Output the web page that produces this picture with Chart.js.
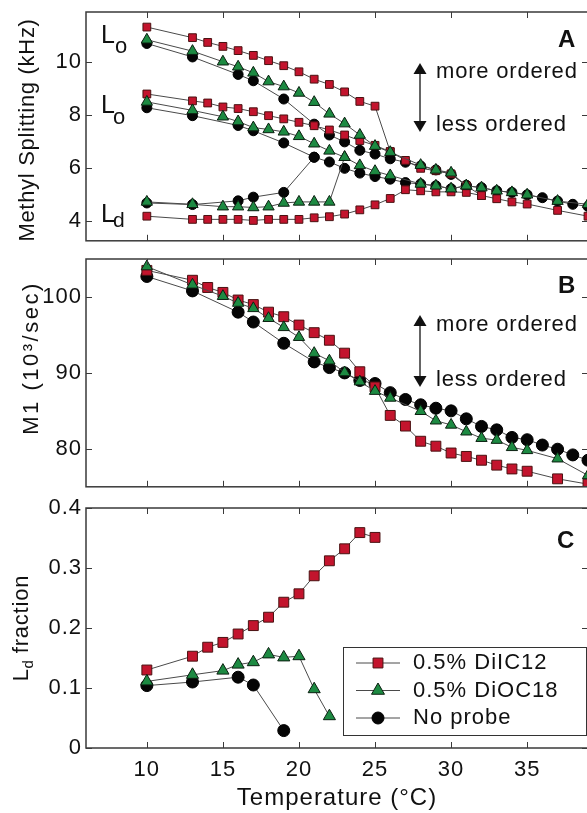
<!DOCTYPE html>
<html lang="en">
<head>
<meta charset="UTF-8">
<title>Methyl splitting, M1 and Ld fraction vs temperature</title>
<script src="https://cdn.jsdelivr.net/npm/chart.js@4.4.1/dist/chart.umd.min.js"></script>
<style>
  html, body { margin: 0; padding: 0; background: #fff; overflow: hidden; width: 587px; height: 813px; }
  canvas { position: absolute; left: 0; }
  #chartA { top: -8px; }
  #chartB { top: 240px; }
  #chartC { top: 485px; }
</style>
</head>
<body>
<canvas id="chartA" width="600" height="266"></canvas>
<canvas id="chartB" width="600" height="264"></canvas>
<canvas id="chartC" width="600" height="328"></canvas>
<script>
// Temperature axis (°C), shared by the three panels
const tempMin = 6, tempMax = 39;
const tempTicks = [10, 15, 20, 25, 30, 35];

// tick labels of the three y axes
const splitTicks = [4, 6, 8, 10];
const m1Ticks = [80, 90, 100];
const fracTicks = [0, 0.1, 0.2, 0.3, 0.4];

// Panel A: methyl splitting (kHz), Lo / Lo / Ld branches per sample
const tRedLo1 = [10, 13, 14, 15, 16, 17, 18, 19, 20, 21, 22, 23, 24, 25, 26];
const redLo1  = [11.33, 10.93, 10.75, 10.60, 10.44, 10.26, 10.06, 9.87, 9.64, 9.36, 9.16, 8.88, 8.52, 8.34, 6.62];
const tRedLo2 = [10, 13, 14, 15, 16, 17, 18, 19, 20, 21, 22, 23, 24, 25, 26, 27, 28, 29, 30, 31, 32];
const redLo2  = [8.80, 8.54, 8.46, 8.31, 8.25, 8.13, 7.98, 7.86, 7.73, 7.60, 7.44, 7.25, 7.04, 6.86, 6.62, 6.29, 5.99, 5.90, 5.78, 5.33, 4.96];
const tRedLd  = [10, 13, 14, 15, 16, 17, 18, 19, 20, 21, 22, 23, 24, 25, 26, 27, 28, 29, 30, 31, 32, 33, 34, 35, 37, 39];
const redLd   = [4.18, 4.06, 4.06, 4.06, 4.06, 4.02, 4.06, 4.06, 4.06, 4.12, 4.16, 4.26, 4.42, 4.61, 4.85, 5.18, 5.14, 5.10, 5.10, 5.08, 4.96, 4.84, 4.72, 4.64, 4.40, 4.18];

const tGrnLo1 = [10, 13, 15, 16, 17, 18, 19, 20, 21, 22, 23, 24, 25, 26, 28, 29, 30, 31];
const grnLo1  = [10.85, 10.42, 10.02, 9.83, 9.60, 9.27, 9.08, 8.84, 8.49, 8.05, 7.68, 7.25, 6.83, 6.60, 6.11, 5.93, 5.82, 5.33];
const tGrnLo2 = [10, 13, 15, 16, 17, 18, 19, 20, 21, 22, 23, 24, 25, 26, 28, 29, 30, 31, 32, 33, 34, 35, 37, 39];
const grnLo2  = [8.50, 8.18, 7.94, 7.76, 7.53, 7.46, 7.37, 7.20, 6.92, 6.65, 6.41, 6.10, 5.88, 5.72, 5.40, 5.33, 5.22, 5.33, 5.26, 5.14, 5.08, 4.99, 4.75, 4.63];
const tGrnLd  = [10, 13, 15, 16, 17, 18, 19, 20, 21, 22, 23];
const grnLd   = [4.72, 4.63, 4.54, 4.54, 4.51, 4.54, 4.68, 4.72, 4.72, 4.72, 6.41];

const tBlkLo1 = [10, 13, 16, 17, 19, 21, 22, 23, 24, 25, 26, 27, 28, 29, 30, 31];
const blkLo1  = [10.71, 10.20, 9.54, 9.30, 8.61, 7.66, 7.25, 6.99, 6.67, 6.53, 6.35, 6.22, 6.08, 5.93, 5.76, 5.35];
const tBlkLo2 = [10, 13, 16, 17, 19, 21, 22, 23, 24, 25, 26, 27, 28, 29, 30, 31, 32, 33, 34, 35, 36, 37, 38, 39];
const blkLo2  = [8.28, 7.98, 7.61, 7.41, 6.95, 6.41, 6.23, 5.99, 5.81, 5.68, 5.58, 5.45, 5.40, 5.33, 5.22, 5.33, 5.26, 5.14, 5.08, 4.99, 4.88, 4.75, 4.63, 4.55];
const tBlkLd  = [10, 13, 16, 17, 19, 21];
const blkLd   = [4.68, 4.62, 4.76, 4.90, 5.08, 6.41];

// Panel B: M1 (10^3/sec)
const tRedM1 = [10, 13, 14, 15, 16, 17, 18, 19, 20, 21, 22, 23, 24, 25, 26, 27, 28, 29, 30, 31, 32, 33, 34, 35, 37, 39];
const redM1  = [103.5, 102.2, 101.25, 100.6, 99.6, 99.0, 98.0, 97.4, 96.3, 95.3, 94.3, 92.6, 90.15, 88.15, 84.4, 83.0, 81.0, 80.35, 79.45, 79.0, 78.5, 77.85, 77.35, 77.05, 76.05, 75.35];
const tGrnM1 = [10, 13, 15, 16, 17, 18, 19, 20, 21, 22, 23, 24, 25, 26, 28, 29, 30, 31, 32, 33, 34, 35, 37, 39];
const grnM1  = [104.0, 101.6, 100.1, 99.2, 98.5, 97.2, 96.0, 94.7, 92.6, 91.6, 90.05, 88.85, 87.6, 86.7, 84.95, 83.7, 83.15, 82.25, 81.4, 81.15, 80.2, 79.8, 78.7, 76.5];
const tBlkM1 = [10, 13, 16, 17, 19, 21, 22, 23, 24, 25, 26, 27, 28, 29, 30, 31, 32, 33, 34, 35, 36, 37, 38, 39];
const blkM1  = [102.7, 100.8, 98.0, 96.7, 93.9, 91.45, 90.7, 90.0, 89.0, 88.6, 87.4, 86.5, 85.8, 85.35, 85.0, 83.95, 82.95, 82.5, 81.5, 81.2, 80.5, 79.95, 79.2, 78.5];

// Panel C: Ld fraction
const tRedFrac = [10, 13, 14, 15, 16, 17, 18, 19, 20, 21, 22, 23, 24, 25];
const redFrac  = [0.130, 0.153, 0.168, 0.176, 0.190, 0.204, 0.218, 0.243, 0.257, 0.287, 0.312, 0.332, 0.359, 0.351];
const tGrnFrac = [10, 13, 15, 16, 17, 18, 19, 20, 21, 22];
const grnFrac  = [0.111, 0.122, 0.129, 0.139, 0.143, 0.156, 0.151, 0.153, 0.098, 0.053];
const tBlkFrac = [10, 13, 16, 17, 19];
const blkFrac  = [0.104, 0.110, 0.118, 0.105, 0.029];

const legendLabels = ['0.5% DiIC12', '0.5% DiOC18', 'No probe'];

// styles
const FONT = "'Liberation Sans', Arial, sans-serif";
const RED = { shape: 'rect', fill: '#c3142d', edge: '#4a1212' };
const GRN = { shape: 'triangle', fill: '#1d8a42', edge: '#0b1f10' };
const BLK = { shape: 'circle', fill: '#050505', edge: '#000' };

Chart.defaults.font.family = FONT;
Chart.defaults.color = '#111';

function series(T, V, st, r) {
    return {
        data: T.map((t, i) => ({ x: t, y: V[i] })),
        showLine: true,
        borderColor: '#4a4a4a',
        borderWidth: 1,
        pointStyle: st.shape,
        pointRadius: r,
        pointBackgroundColor: st.fill,
        pointBorderColor: st.edge,
        pointBorderWidth: 1,
        tension: 0,
        clip: 0
    };
}

function scalesFor(yMin, yMax, yTicks, showX, xHeight) {
    return {
        x: {
            type: 'linear', min: tempMin, max: tempMax,
            ticks: { display: showX, padding: 9, font: { size: 22 }, color: '#111' },
            afterBuildTicks: s => { s.ticks = tempTicks.map(v => ({ value: v })); },
            grid: { display: false, drawTicks: false },
            border: { display: false },
            title: { display: showX, text: 'Temperature (°C)', font: { size: 24 }, color: '#111', padding: { top: 0, bottom: 0 } },
            afterFit: s => { s.height = xHeight; }
        },
        y: {
            type: 'linear', min: yMin, max: yMax,
            ticks: {
                padding: 4, font: { size: 22 }, color: '#111',
                callback: v => String(Number(v.toFixed(2)))
            },
            afterBuildTicks: s => { s.ticks = yTicks.map(v => ({ value: v })); },
            grid: { display: false, drawTicks: false },
            border: { display: false },
            afterFit: s => { s.width = 86; }
        }
    };
}

// box with inward ticks on all four sides
const framePlugin = {
    id: 'frame',
    beforeDraw(chart) { chart.ctx.letterSpacing = '1px'; },
    afterDraw(chart) {
        const { ctx, chartArea: a, scales: { x, y } } = chart;
        ctx.save();
        ctx.strokeStyle = '#3a3a3a';
        ctx.lineWidth = 1.5;
        ctx.strokeRect(a.left, a.top, a.right - a.left, a.bottom - a.top);
        ctx.lineWidth = 1;
        ctx.beginPath();
        x.ticks.forEach(t => {
            const px = Math.round(x.getPixelForValue(t.value)) + 0.5;
            ctx.moveTo(px, a.bottom); ctx.lineTo(px, a.bottom - 6);
            ctx.moveTo(px, a.top); ctx.lineTo(px, a.top + 6);
        });
        y.ticks.forEach(t => {
            const py = Math.round(y.getPixelForValue(t.value)) + 0.5;
            ctx.moveTo(a.left, py); ctx.lineTo(a.left + 6, py);
            ctx.moveTo(a.right, py); ctx.lineTo(a.right - 6, py);
        });
        ctx.stroke();
        ctx.restore();
    }
};

function text(ctx, s, x, y, size, opts = {}) {
    ctx.font = (opts.bold ? 'bold ' : '') + size + 'px ' + FONT;
    ctx.letterSpacing = (opts.sp ?? 0.8) + 'px';
    ctx.fillStyle = '#111';
    ctx.textAlign = opts.align || 'left';
    ctx.textBaseline = opts.base || 'alphabetic';
    ctx.fillText(s, x, y);
}

// rotated axis title made of parts (for sub/superscripts), baseline at page x
function vtitle(ctx, parts, x, cy) {
    ctx.save();
    ctx.translate(x, cy);
    ctx.rotate(-Math.PI / 2);
    ctx.fillStyle = '#111';
    ctx.textAlign = 'left';
    ctx.textBaseline = 'alphabetic';
    let total = 0;
    parts.forEach(p => {
        ctx.font = p.size + 'px ' + FONT;
        ctx.letterSpacing = p.sp + 'px';
        p.w = ctx.measureText(p.t).width;
        total += p.w;
    });
    let cx = -total / 2;
    parts.forEach(p => {
        ctx.font = p.size + 'px ' + FONT;
        ctx.letterSpacing = p.sp + 'px';
        ctx.fillText(p.t, cx, p.dy || 0);
        cx += p.w;
    });
    ctx.restore();
}

function arrow(ctx, x, yTop, yBot) {
    const hw = 6.5, hh = 11;
    ctx.strokeStyle = '#111';
    ctx.lineWidth = 1.3;
    ctx.beginPath();
    ctx.moveTo(x, yTop + hh); ctx.lineTo(x, yBot - hh);
    ctx.stroke();
    ctx.fillStyle = '#111';
    ctx.beginPath();
    ctx.moveTo(x, yTop); ctx.lineTo(x - hw, yTop + hh); ctx.lineTo(x + hw, yTop + hh);
    ctx.closePath(); ctx.fill();
    ctx.beginPath();
    ctx.moveTo(x, yBot); ctx.lineTo(x - hw, yBot - hh); ctx.lineTo(x + hw, yBot - hh);
    ctx.closePath(); ctx.fill();
}

function marker(ctx, st, x, y, r) {
    ctx.fillStyle = st.fill;
    ctx.strokeStyle = st.edge;
    ctx.lineWidth = 1;
    ctx.beginPath();
    if (st.shape === 'rect') {
        const s = r * Math.SQRT1_2;
        ctx.rect(x - s, y - s, 2 * s, 2 * s);
    } else if (st.shape === 'triangle') {
        const a = 2 * Math.PI / 3;
        ctx.moveTo(x, y - r);
        ctx.lineTo(x + Math.sin(a) * r, y - Math.cos(a) * r);
        ctx.lineTo(x - Math.sin(a) * r, y - Math.cos(a) * r);
        ctx.closePath();
    } else {
        ctx.arc(x, y, r, 0, 2 * Math.PI);
    }
    ctx.fill();
    ctx.stroke();
}

// extra drawing in page coordinates (canvas offset removed)
function decor(offsetY, draw) {
    return {
        id: 'decor',
        afterDraw(chart) {
            const ctx = chart.ctx;
            ctx.save();
            ctx.translate(0, -offsetY);
            draw(ctx);
            ctx.restore();
        }
    };
}

// ---------- Panel A
new Chart(document.getElementById('chartA'), {
    type: 'scatter',
    data: {
        datasets: [
            series(tGrnLo1, grnLo1, GRN, 6.5),
            series(tGrnLo2, grnLo2, GRN, 6.5),
            series(tGrnLd, grnLd, GRN, 6.5),
            series(tRedLo1, redLo1, RED, 5.5),
            series(tRedLo2, redLo2, RED, 5.5),
            series(tRedLd, redLd, RED, 5.5),
            series(tBlkLo1, blkLo1, BLK, 5),
            series(tBlkLo2, blkLo2, BLK, 5),
            series(tBlkLd, blkLd, BLK, 5)
        ]
    },
    options: {
        responsive: false, animation: false, events: [],
        layout: { padding: { top: 20, right: 12, left: 0, bottom: 0 } },
        plugins: { legend: { display: false }, tooltip: { enabled: false } },
        scales: scalesFor(3.25, 11.9, splitTicks, false, 7)
    },
    plugins: [framePlugin, decor(-8, ctx => {
        vtitle(ctx, [{ t: 'Methyl Splitting (kHz)', size: 22, sp: 0.7 }], 34, 130);
        text(ctx, 'L', 101, 43, 25, { sp: 0 });
        text(ctx, 'o', 115, 53, 22, { sp: 0 });
        text(ctx, 'L', 101, 113, 25, { sp: 0 });
        text(ctx, 'o', 113, 124, 22, { sp: 0 });
        text(ctx, 'L', 101, 222, 25, { sp: 0 });
        text(ctx, 'd', 113, 227, 21, { sp: 0 });
        text(ctx, 'A', 558, 47, 24, { bold: true, sp: 0 });
        arrow(ctx, 420, 63, 132);
        text(ctx, 'more ordered', 436, 78, 22);
        text(ctx, 'less ordered', 436, 131, 22);
    })]
});

// ---------- Panel B
new Chart(document.getElementById('chartB'), {
    type: 'scatter',
    data: {
        datasets: [
            series(tGrnM1, grnM1, GRN, 6.5),
            series(tRedM1, redM1, RED, 7),
            series(tBlkM1, blkM1, BLK, 6)
        ]
    },
    options: {
        responsive: false, animation: false, events: [],
        layout: { padding: { top: 19, right: 12, left: 0, bottom: 0 } },
        plugins: { legend: { display: false }, tooltip: { enabled: false } },
        scales: scalesFor(75, 105, m1Ticks, false, 5)
    },
    plugins: [framePlugin, decor(240, ctx => {
        vtitle(ctx, [{ t: 'M1 (10³/sec)', size: 22, sp: 2.5 }], 38, 358);
        text(ctx, 'B', 558, 293, 24, { bold: true, sp: 0 });
        arrow(ctx, 420, 315, 387);
        text(ctx, 'more ordered', 436, 331, 22);
        text(ctx, 'less ordered', 436, 386, 22);
    })]
});

// ---------- Panel C
new Chart(document.getElementById('chartC'), {
    type: 'scatter',
    data: {
        datasets: [
            series(tGrnFrac, grnFrac, GRN, 7),
            series(tRedFrac, redFrac, RED, 7),
            series(tBlkFrac, blkFrac, BLK, 6)
        ]
    },
    options: {
        responsive: false, animation: false, events: [],
        layout: { padding: { top: 23, right: 12, left: 0, bottom: 0 } },
        plugins: { legend: { display: false }, tooltip: { enabled: false } },
        scales: scalesFor(0, 0.4, fracTicks, true, 65)
    },
    plugins: [framePlugin, decor(485, ctx => {
        vtitle(ctx, [
            { t: 'L', size: 22, sp: 0.5 },
            { t: 'd', size: 15, sp: 0, dy: 5 },
            { t: ' fraction', size: 22, sp: 0.8 }
        ], 28, 628);
        text(ctx, 'C', 557, 548, 24, { bold: true, sp: 0 });
        // legend
        ctx.fillStyle = '#fff';
        ctx.fillRect(343.5, 647.5, 243, 88);
        ctx.strokeStyle = '#333';
        ctx.lineWidth = 1;
        ctx.strokeRect(343.5, 647.5, 243, 88);
        const styles = [[RED, 7], [GRN, 7.5], [BLK, 6]];
        legendLabels.forEach((lab, i) => {
            const y = 663 + i * 27.5;
            ctx.strokeStyle = '#4a4a4a';
            ctx.lineWidth = 1;
            ctx.beginPath();
            ctx.moveTo(356, y); ctx.lineTo(400, y);
            ctx.stroke();
            marker(ctx, styles[i][0], 378, y, styles[i][1]);
            text(ctx, lab, 413, y, 22, { base: 'middle', sp: 1 });
        });
    })]
});
</script>
</body>
</html>
